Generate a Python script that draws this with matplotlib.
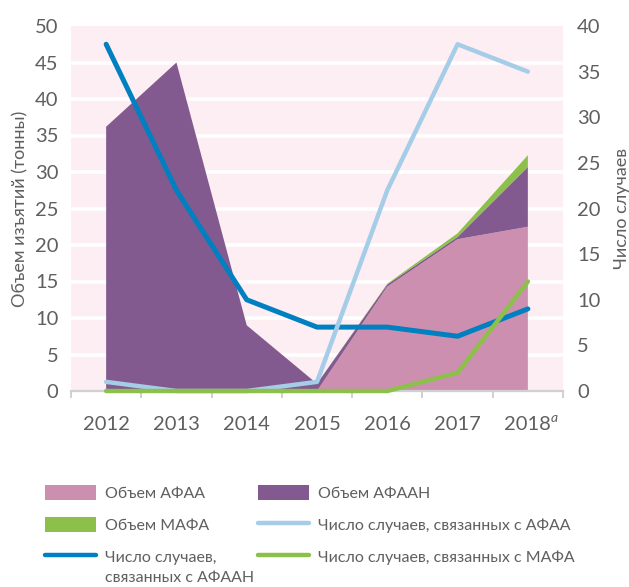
import matplotlib
matplotlib.use('Agg')
import matplotlib.pyplot as plt
from matplotlib.patches import Patch
from matplotlib.lines import Line2D
import numpy as np

years = ['2012', '2013', '2014', '2015', '2016', '2017', '2018']
vol_afaa = [0, 0, 0, 0, 14.3, 20.8, 22.5]
vol_afaan = [36.2, 45.0, 9.0, 1.0, 0.3, 0.3, 8.2]
vol_mafa = [0, 0, 0, 0, 0.1, 0.5, 1.6]
cases_afaa = [1, 0, 0, 1, 22, 38, 35]
cases_afaan = [38, 22, 10, 7, 7, 6, 9]
cases_mafa = [0, 0, 0, 0, 0, 2, 12]

FONT = ['Lato', 'DejaVu Sans']
plt.rcParams['font.family'] = FONT

C_PINK = '#CC8FB0'
C_PURPLE = '#825A8F'
C_GREEN = '#8DC04A'
C_LBLUE = '#A6CDE8'
C_DBLUE = '#0080C0'
C_BG = '#FCEEF3'
C_TXT = '#5f5f5f'

fig = plt.figure(figsize=(6.29, 5.87), dpi=100)
ax = fig.add_axes([71/629, 1-391/587, (563-71)/629, (391-26)/587])
ax.set_facecolor(C_BG)
x = np.arange(len(years))

ax.stackplot(x, vol_afaa, vol_afaan, vol_mafa,
             colors=[C_PINK, C_PURPLE, C_GREEN], zorder=2, linewidth=0)
ax.set_xlim(-0.5, 6.5)
ax.set_ylim(0, 50)
ax.set_yticks(np.arange(0, 51, 5))
for yv in np.arange(5, 50, 5):
    ax.axhline(yv, color='white', lw=2.6, zorder=1)

ax2 = ax.twinx()
ax2.set_ylim(0, 40)
ax2.set_yticks(np.arange(0, 41, 5))
ax2.plot(x, cases_afaan, color=C_DBLUE, lw=3.6, solid_capstyle='round', solid_joinstyle='round', zorder=3, clip_on=False)
ax2.plot(x, cases_afaa, color=C_LBLUE, lw=3.2, solid_capstyle='round', solid_joinstyle='round', zorder=4, clip_on=False)
ax2.plot(x, cases_mafa, color=C_GREEN, lw=3.2, solid_capstyle='round', solid_joinstyle='round', zorder=5, clip_on=False)

for a in (ax, ax2):
    for s in ('top', 'left', 'right', 'bottom'):
        a.spines[s].set_visible(False)
ax.spines['bottom'].set_visible(True)
ax.spines['bottom'].set_color('#d0d0d0')
ax.spines['bottom'].set_linewidth(1.6)

ax.tick_params(axis='y', length=0, pad=9, labelsize=14.5, labelcolor=C_TXT)
ax2.tick_params(axis='y', length=0, pad=10, labelsize=14.5, labelcolor=C_TXT)
ax.set_xticks(x)
ax.set_xticklabels(years)
ax.set_xticks(np.arange(-0.5, 7, 1), minor=True)
ax.tick_params(axis='x', which='major', length=0, pad=18, labelsize=14.5, labelcolor=C_TXT)
ax.tick_params(axis='x', which='minor', length=5, width=1.4, color='#d0d0d0')

ax.set_ylabel('Объем изъятий (тонны)', fontsize=13, color=C_TXT, labelpad=5)
ax2.set_ylabel('Число случаев', fontsize=13, color=C_TXT, rotation=90, labelpad=10)

LFS = 11.5
h1 = [Patch(facecolor=C_PINK), Patch(facecolor=C_GREEN),
      Line2D([], [], color=C_DBLUE, lw=3.2, solid_capstyle='round')]
l1 = ['Объем АФАА', 'Объем МАФА', 'Число случаев,']
h2 = [Patch(facecolor=C_PURPLE),
      Line2D([], [], color=C_LBLUE, lw=3.2, solid_capstyle='round'),
      Line2D([], [], color=C_GREEN, lw=3.2, solid_capstyle='round')]
l2 = ['Объем АФААН', 'Число случаев, связанных с АФАА', 'Число случаев, связанных с МАФА']
common = dict(loc='upper left', frameon=False, fontsize=LFS, handlelength=3.2,
              handleheight=1.05, handletextpad=0.55, labelspacing=1.0,
              borderaxespad=0, borderpad=0, labelcolor=C_TXT)
leg1 = fig.legend(h1, l1, bbox_to_anchor=(45/629, 1-485/587), **common)
leg2 = fig.legend(h2, l2, bbox_to_anchor=(258/629, 1-485/587), **common)

fig.canvas.draw()
inv = fig.transFigure.inverted()
t = leg1.get_texts()[2]
bb = t.get_window_extent()
x0, y0 = inv.transform((bb.x0, bb.y0))
fig.text(x0, y0 - 6/587, 'связанных с АФААН', fontsize=LFS, color=C_TXT, va='top', ha='left')

lab = ax.get_xticklabels()[-1]
lb = lab.get_window_extent()
lx, ly = inv.transform((lb.x1, lb.y1))
fig.text(lx - 1/629, ly + 4/587, 'a', fontsize=10, style='italic', color=C_TXT, va='top', ha='left')

fig.savefig('out.png', dpi=100)
